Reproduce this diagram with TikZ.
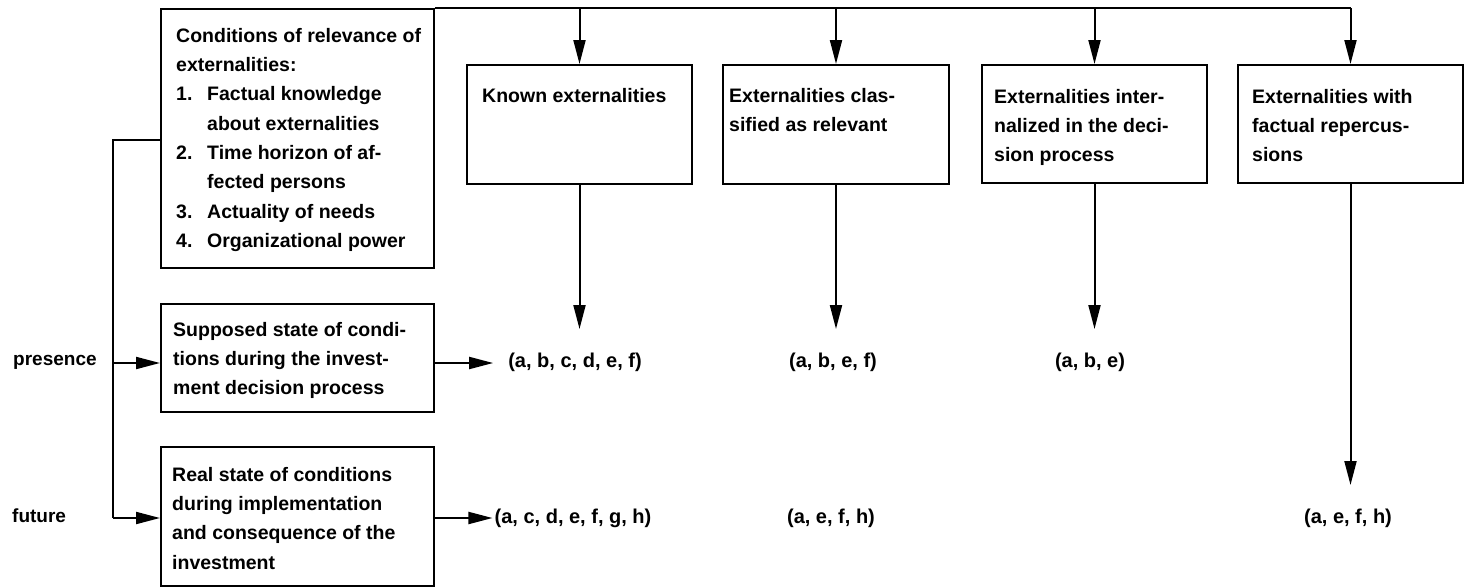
\documentclass[tikz,border=0pt]{standalone}
\usepackage{fontspec}
\setmainfont{Liberation Sans}
\usetikzlibrary{arrows.meta}
\begin{document}
\begin{tikzpicture}[x=1pt,y=-1pt,
  box/.style={draw, line width=2pt, inner sep=0, anchor=north west},
  txt/.style={anchor=north west, align=left, inner sep=0, font=\bfseries\fontsize{19.5}{29.3}\selectfont},
  res/.style={inner sep=0, font=\bfseries\fontsize{20}{24}\selectfont},
  lbl/.style={anchor=base west, inner sep=0, font=\bfseries\fontsize{19}{24}\selectfont},
  conn/.style={line width=2pt},
  arr/.style={conn, -{Triangle[length=24pt,width=12pt]}}]
\useasboundingbox (0,0) rectangle (1465,587);

% left boxes
\node[box, minimum width=273pt, minimum height=259pt] (b1) at (160,8) {};
\node[box, minimum width=273pt, minimum height=108pt] (b2) at (160,303) {};
\node[box, minimum width=273pt, minimum height=139pt] (b3) at (160,446) {};

\node[txt] (t1) at (176,28) {Conditions of relevance of\\externalities:\\
\makebox[31pt][l]{1.}Factual knowledge\\\hspace*{31pt}about externalities\\
\makebox[31pt][l]{2.}Time horizon of af-\\\hspace*{31pt}fected persons\\
\makebox[31pt][l]{3.}Actuality of needs\\
\makebox[31pt][l]{4.}Organizational power};
\node[txt] (t2) at (173,322) {Supposed state of condi-\\tions during the invest-\\ment decision process};
\node[txt] (t3) at (172,467) {Real state of conditions\\during implementation\\and consequence of the\\investment};

% top boxes
\node[box, minimum width=225pt, minimum height=119pt] (known) at (466,64) {};
\node[box, minimum width=226pt, minimum height=119pt] (class) at (722,64) {};
\node[box, minimum width=225pt, minimum height=118pt] (intern) at (981,64) {};
\node[box, minimum width=225pt, minimum height=118pt] (fact) at (1237,64) {};

\node[txt] (tk) at (482,88) {Known externalities};
\node[txt] (tc) at (729,88) {Externalities clas-\\sified as relevant};
\node[txt] (ti) at (994,89) {Externalities inter-\\nalized in the deci-\\sion process};
\node[txt] (tf) at (1252,89) {Externalities with\\factual repercus-\\sions};

% labels
\node[lbl] (pres) at (13,365) {presence};
\node[lbl] (fut) at (12,522) {future};

% results
\node[res] (r11) at (575,362) {(a, b, c, d, e, f)};
\node[res] (r12) at (833,362) {(a, b, e, f)};
\node[res] (r13) at (1090,362) {(a, b, e)};
\node[res] (r21) at (573,518) {(a, c, d, e, f, g, h)};
\node[res] (r22) at (831,518) {(a, e, f, h)};
\node[res] (r24) at (1348,518) {(a, e, f, h)};

% coordinates
\coordinate (busT) at (113,140);
\coordinate (busP) at (113,363);
\coordinate (busF) at (113,518);
\coordinate (row1) at (0,329);
\coordinate (row2) at (0,485);

% top bus
\draw[conn] (b1.north east) -- (fact.north |- b1.north);
\draw[arr] (known.north |- b1.north) -- (known.north);
\draw[arr] (class.north |- b1.north) -- (class.north);
\draw[arr] (intern.north |- b1.north) -- (intern.north);
\draw[arr] (fact.north |- b1.north) -- (fact.north);

% down arrows
\draw[arr] (known.south) -- (known.south |- row1);
\draw[arr] (class.south) -- (class.south |- row1);
\draw[arr] (intern.south) -- (intern.south |- row1);
\draw[arr] (fact.south) -- (fact.south |- row2);

% left bus
\draw[conn] (b1.west |- busT) -- (busT) -- (busF);
\draw[arr] (busP) -- (b2.west |- busP);
\draw[arr] (busF) -- (b3.west |- busF);

% right arrows
\draw[arr, shorten >=15pt] (b2.east |- busP) -- (r11.west |- busP);
\draw[arr, shorten >=2pt] (b3.east |- busF) -- (r21.west |- busF);
\end{tikzpicture}
\end{document}
